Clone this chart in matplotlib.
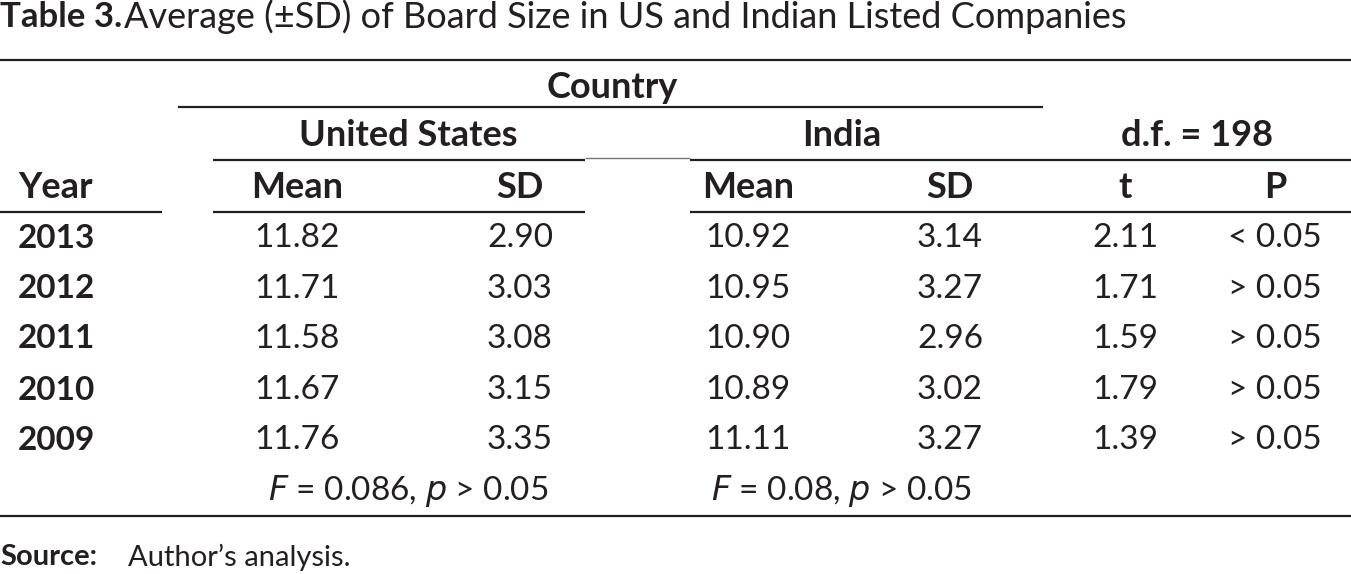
import matplotlib.pyplot as plt

years = ["2013", "2012", "2011", "2010", "2009"]
us_mean = ["11.82", "11.71", "11.58", "11.67", "11.76"]
us_sd = ["2.90", "3.03", "3.08", "3.15", "3.35"]
in_mean = ["10.92", "10.95", "10.90", "10.89", "11.11"]
in_sd = ["3.14", "3.27", "2.96", "3.02", "3.27"]
t_vals = ["2.11", "1.71", "1.59", "1.79", "1.39"]
p_vals = ["< 0.05", "> 0.05", "> 0.05", "> 0.05", "> 0.05"]

W, H = 1351, 574
fig = plt.figure(figsize=(W / 100, H / 100), dpi=100)
ax = fig.add_axes([0, 0, 1, 1])
ax.set_xlim(0, W)
ax.set_ylim(H, 0)
ax.axis('off')
plt.rcParams['font.family'] = ['Lato', 'DejaVu Sans']

fs = 24
hfs = 26
k = '#231f20'

def txt(x, y, s, ha='center', bold=False, size=None):
    ax.text(x, y, s, ha=ha, va='center', fontsize=size or (hfs if bold else fs), color=k,
            fontweight='bold' if bold else 'normal')

def hline(y, x0, x1, lw=1.6, c=k):
    ax.plot([x0, x1], [y, y], color=c, lw=lw, solid_capstyle='butt')

# title
ax.text(0, 17, "Table 3.", ha='left', va='center', fontsize=25, color=k, fontweight='bold')
ax.text(124, 17, "Average (±SD) of Board Size in US and Indian Listed Companies",
        ha='left', va='center', fontsize=26, color=k)

# rules
hline(60, 0, W)
hline(107, 178, 1043)
hline(160, 213, 585)
hline(158, 585, 690, lw=1.0, c='#777777')
hline(160, 690, W)
hline(212, 0, 162)
hline(212, 213, 585)
hline(212, 690, W)
hline(516, 0, W)

# headers
txt(612, 87, "Country", bold=True)
txt(408, 136, "United States", bold=True)
txt(842, 136, "India", bold=True)
txt(1197, 136, "d.f. = 198", bold=True)
cols = [297, 520, 748, 950, 1125, 1275]
txt(18, 188, "Year", ha='left', bold=True)
for x, s in zip(cols, ["Mean", "SD", "Mean", "SD", "t", "P"]):
    txt(x, 188, s, bold=True)

# body
row_y = [238, 289, 339, 390, 440]
for i, y in enumerate(row_y):
    txt(18, y, years[i], ha='left', bold=True, size=fs)
    for x, s in zip(cols, [us_mean[i], us_sd[i], in_mean[i], in_sd[i], t_vals[i], p_vals[i]]):
        txt(x, y, s)

txt(408, 491, r"$F$ = 0.086, $p$ > 0.05")
txt(842, 491, r"$F$ = 0.08, $p$ > 0.05")

# source
ax.text(0, 557, "Source:", ha='left', va='center', fontsize=21, color=k, fontweight='bold')
ax.text(128, 557, "Author’s analysis.", ha='left', va='center', fontsize=21, color=k)

fig.savefig("out.png", dpi=100)
